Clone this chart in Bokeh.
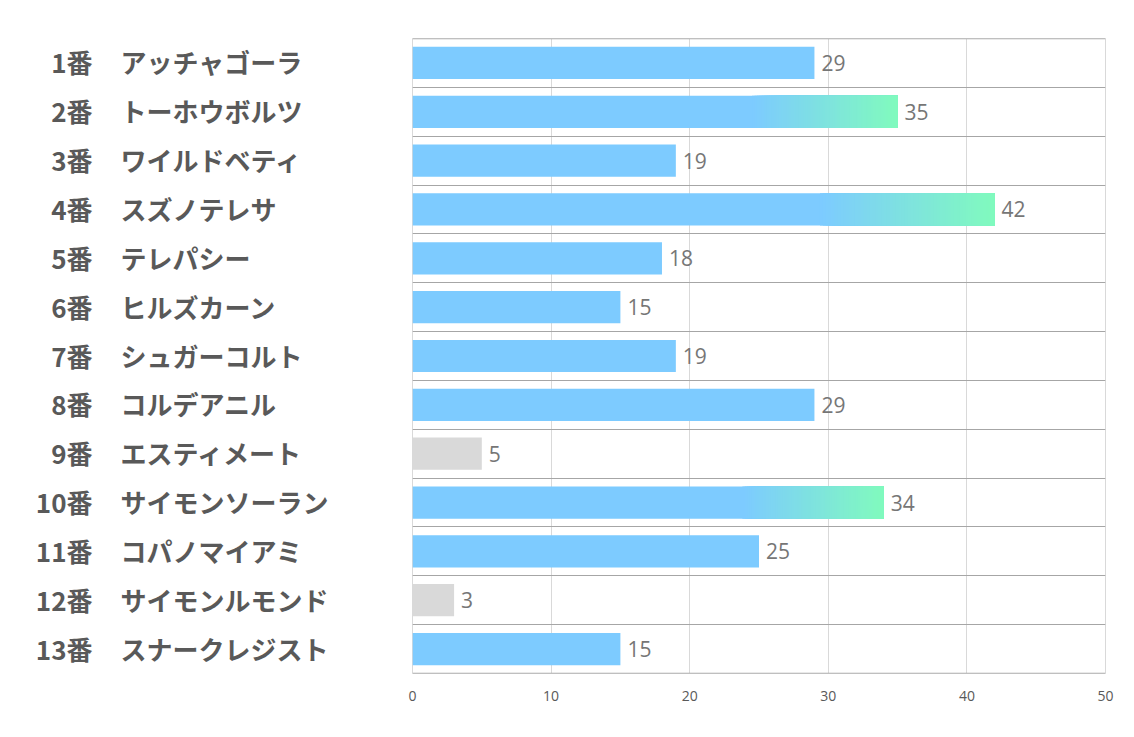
from bokeh.plotting import figure
from bokeh.layouts import row
from bokeh.models import ColumnDataSource, LabelSet, Range1d, FixedTicker, Span
from bokeh.core.properties import value
from bokeh.embed import file_html
from bokeh.resources import INLINE

numbers = ["1番", "2番", "3番", "4番", "5番", "6番", "7番", "8番", "9番", "10番", "11番", "12番", "13番"]
names = ["アッチャゴーラ", "トーホウボルツ", "ワイルドベティ", "スズノテレサ", "テレパシー",
         "ヒルズカーン", "シュガーコルト", "コルデアニル", "エスティメート", "サイモンソーラン",
         "コパノマイアミ", "サイモンルモンド", "スナークレジスト"]
values = [29, 35, 19, 42, 18, 15, 19, 29, 5, 34, 25, 3, 15]
x_ticks = [0, 10, 20, 30, 40, 50]

BLUE = (125, 203, 255)
GREEN = (128, 250, 190)
GRAY = "#D9D9D9"
BAR_H = 0.66
GRAD_FROM = 0.7
N_SEG = 60

def hexc(c):
    return "#%02x%02x%02x" % tuple(int(round(v)) for v in c)

n = len(values)
ys = [i + 0.5 for i in range(n)]
yr = Range1d(n, 0)

# ---- left panel with the category labels ----
LW = 392
lp = figure(width=LW, height=728, x_range=Range1d(0, LW), y_range=yr,
            output_backend="svg", toolbar_location=None,
            min_border_left=0, min_border_right=0, min_border_top=38, min_border_bottom=55)
lp.outline_line_color = None
lp.axis.visible = False
lp.grid.visible = False
csrc = ColumnDataSource(dict(y=ys, num=numbers, name=names))
lp.text(x=92, y="y", text="num", source=csrc, text_align="right", text_baseline="middle",
        text_font=value("Noto Sans CJK JP"), text_font_style="bold",
        text_font_size="26px", text_color="#595959", y_offset=-1)
lp.text(x=120, y="y", text="name", source=csrc, text_align="left", text_baseline="middle",
        text_font=value("Noto Sans CJK JP"), text_font_style="bold",
        text_font_size="26px", text_color="#595959", y_offset=-1)

# ---- chart ----
p = figure(width=733, height=728, x_range=Range1d(0, 50), y_range=yr,
           output_backend="svg", toolbar_location=None,
           min_border_left=20, min_border_right=20, min_border_top=38, min_border_bottom=55)
p.outline_line_color = "#D9D9D9"
p.background_fill_color = "white"

p.xgrid.ticker = FixedTicker(ticks=x_ticks)
p.xgrid.grid_line_color = "#D9D9D9"
p.xgrid.grid_line_width = 1
p.ygrid.ticker = FixedTicker(ticks=list(range(n + 1)))
p.ygrid.grid_line_color = "#A6A6A6"
p.ygrid.grid_line_width = 1
p.add_layout(Span(location=0, dimension="width", line_color="#A6A6A6", line_width=1.5))
p.add_layout(Span(location=n, dimension="width", line_color="#A6A6A6", line_width=1.5))

colors = [GRAY if v < 10 else hexc(BLUE) for v in values]
src = ColumnDataSource(dict(y=ys, right=values, color=colors))
p.hbar(y="y", left=0, right="right", height=BAR_H, fill_color="color", line_color=None, source=src)

# gradient overlay: strips that each run to the bar end, later strips covering earlier ones
gy, gl, gr, gc = [], [], [], []
for y, v in zip(ys, values):
    if v > 30:
        s = v * GRAD_FROM
        for k in range(N_SEG):
            a = s + (v - s) * k / N_SEG
            t = k / (N_SEG - 1)
            c = tuple(BLUE[j] + (GREEN[j] - BLUE[j]) * t for j in range(3))
            gy.append(y); gl.append(a); gr.append(v); gc.append(hexc(c))
gsrc = ColumnDataSource(dict(y=gy, left=gl, right=gr, color=gc))
p.hbar(y="y", left="left", right="right", height=BAR_H, fill_color="color",
       line_color=None, source=gsrc)

vsrc = ColumnDataSource(dict(y=ys, x=values, t=[str(v) for v in values]))
p.add_layout(LabelSet(x="x", y="y", text="t", source=vsrc, x_offset=7,
                      text_baseline="middle", text_align="left",
                      text_font=value("Open Sans"), text_font_size="21px", text_color="#767676"))

p.yaxis.visible = False
p.xaxis.ticker = FixedTicker(ticks=x_ticks)
p.xaxis.axis_line_color = None
p.xaxis.major_tick_line_color = None
p.xaxis.minor_tick_line_color = None
p.xaxis.major_label_standoff = 11
p.xaxis.major_label_text_font = "Open Sans"
p.xaxis.major_label_text_font_size = "14px"
p.xaxis.major_label_text_color = "#595959"

layout = row(lp, p, spacing=0)
open("out.html", "w").write(file_html(layout, INLINE))
